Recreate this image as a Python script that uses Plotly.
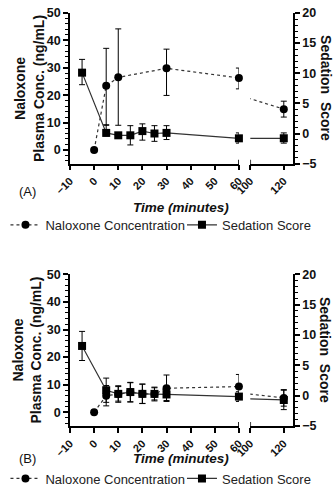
import plotly.graph_objects as go

# ---------------- data ----------------
# Panel A
t_nal_A = [0, 5, 10, 30, 60, 120]
nal_A = [0, 23.4, 26.5, 29.8, 26.3, 14.9]
nal_A_up = [0, 13.7, 17.7, 7.0, 3.6, 2.9]
nal_A_dn = [0, 14.4, 17.5, 9.9, 4.0, 2.9]

t_sed = [-5, 5, 10, 15, 20, 25, 30, 60, 120]
sed_A = [10.1, 0.1, -0.3, -0.3, 0.4, 0.0, 0.1, -0.8, -0.8]
sed_A_up = [2.2, 1.35, 0.4, 1.6, 1.2, 1.3, 1.2, 0.9, 0.9]
sed_A_dn = [2.0, 0.5, 0.4, 1.6, 1.5, 1.3, 1.1, 0.8, 0.8]

# Panel B
t_nal_B = [0, 5, 10, 15, 20, 25, 30, 60, 120]
nal_B = [0, 6.0, 6.6, 7.2, 6.7, 6.6, 8.7, 9.3, 5.2]
nal_B_err = [0, 3.7, 3.0, 3.5, 3.5, 2.5, 4.8, 4.4, 3.0]

sed_B = [8.2, 0.9, 0.3, 0.6, 0.3, 0.3, 0.2, -0.15, -0.7]
sed_B_err = [2.4, 2.0, 1.2, 1.6, 1.6, 1.0, 1.0, 0.8, 1.6]

x_ticks_1 = [-10, 0, 10, 20, 30, 40, 50, 60]
x_ticks_2 = [100, 120]
left_ticks = [0, 10, 20, 30, 40, 50]
right_ticks = [-5, 0, 5, 10, 15, 20]

# ---------------- geometry ----------------
W, H = 335, 500
ML, MR, MT, MB = 58, 42, 6, 69
PW = W - ML - MR
PH = H - MT - MB


def px(xp):
    return (xp - ML) / PW


def py(yp):
    return (H - MB - yp) / PH


d1 = px(236)
d2 = px(248)
yA = [py(161), py(6)]
yB = [py(431), py(275)]

FONT = "Liberation Sans, Arial, sans-serif"
BLACK = "black"

fig = go.Figure()


def add_series(t, v, up, dn, xa1, xa2, ya, name, symbol, msize, dash, legend):
    idx = [i for i, tt in enumerate(t) if tt <= 60]
    err1 = dict(type="data", array=[up[i] for i in idx], arrayminus=[dn[i] for i in idx],
                color=BLACK, thickness=1, width=3)
    err2 = dict(type="data", array=up, arrayminus=dn, color=BLACK, thickness=1, width=3)
    mk = dict(symbol=symbol, size=msize, color=BLACK, line=dict(width=0))
    ln = dict(color="#333333", width=1.2, dash=dash)
    fig.add_trace(go.Scatter(
        x=[t[i] for i in idx], y=[v[i] for i in idx], error_y=err1,
        mode="lines+markers", marker=mk, line=ln, xaxis=xa1, yaxis=ya,
        cliponaxis=False, name=name, legend=legend, showlegend=True))
    fig.add_trace(go.Scatter(
        x=t, y=v, error_y=err2, mode="lines+markers", marker=mk, line=ln,
        xaxis=xa2, yaxis=ya, cliponaxis=True, name=name, legend=legend,
        showlegend=False))


# Panel A
add_series(t_nal_A, nal_A, nal_A_up, nal_A_dn, "x", "x2", "y",
           "Naloxone Concentration", "circle", 8, "dot", "legend")
add_series(t_sed, sed_A, sed_A_up, sed_A_dn, "x", "x2", "y2",
           "Sedation Score", "square", 8, "solid", "legend2")
# Panel B
add_series(t_nal_B, nal_B, nal_B_err, nal_B_err, "x3", "x4", "y3",
           "Naloxone Concentration", "circle", 8, "dot", "legend3")
add_series(t_sed, sed_B, sed_B_err, sed_B_err, "x3", "x4", "y4",
           "Sedation Score", "square", 8, "solid", "legend4")

axis_common = dict(showline=True, linecolor=BLACK, linewidth=1.5, ticks="outside",
                   ticklen=5, tickwidth=1.5, tickcolor=BLACK, showgrid=False,
                   zeroline=False, mirror=False)
xtick_font = dict(family=FONT, size=11, color="#111", weight="bold")
ytick_font = dict(family=FONT, size=12.5, color="#111", weight="bold")
minor_l = dict(dtick=2, ticklen=3, tickwidth=1, ticks="outside", tickcolor=BLACK)
minor_r = dict(dtick=1, ticklen=3, tickwidth=1, ticks="outside", tickcolor=BLACK)


def xax(domain, rng, anchor, tv):
    return dict(domain=domain, range=rng, anchor=anchor, tickmode="array", tickvals=tv,
                tickangle=-45, tickfont=xtick_font, **axis_common)


def yl(domain, anchor):
    return dict(domain=domain, range=[-5, 50], anchor=anchor, tickmode="array",
                tickvals=left_ticks, tickfont=ytick_font, minor=minor_l, **axis_common)


def yr(overlay, anchor):
    return dict(overlaying=overlay, side="right", range=[-5, 20], anchor=anchor,
                tickmode="array", tickvals=right_ticks, tickfont=ytick_font,
                minor=minor_r, **axis_common)


def leg(xp, yp):
    return dict(orientation="h", x=px(xp), y=py(yp), xanchor="left", yanchor="middle",
                font=dict(family=FONT, size=13, color="#222"), itemwidth=30,
                bgcolor="rgba(0,0,0,0)", borderwidth=0)


fig.update_layout(
    width=W, height=H,
    margin=dict(l=ML, r=MR, t=MT, b=MB),
    paper_bgcolor="white", plot_bgcolor="white",
    font=dict(family=FONT, color="#111"),
    xaxis=xax([0, d1], [-10, 60], "y", x_ticks_1),
    xaxis2=xax([d2, 1], [100, 125.5], "y", x_ticks_2),
    yaxis=yl(yA, "x"),
    yaxis2=yr("y", "x2"),
    xaxis3=xax([0, d1], [-10, 60], "y3", x_ticks_1),
    xaxis4=xax([d2, 1], [100, 125.5], "y3", x_ticks_2),
    yaxis3=yl(yB, "x3"),
    yaxis4=yr("y3", "x4"),
    legend=leg(-10, 224),
    legend2=leg(176, 224),
    legend3=leg(-10, 485),
    legend4=leg(176, 485),
    showlegend=True,
)

# axis-break caps
cap = 4 / PH
shapes = []
for xr, x0, yb in [("x", 60, yA[0]), ("x2", 100, yA[0]), ("x3", 60, yB[0]), ("x4", 100, yB[0])]:
    shapes.append(dict(type="line", xref=xr, yref="paper", x0=x0, x1=x0,
                       y0=yb - cap, y1=yb + cap, line=dict(color=BLACK, width=1.5)))
fig.update_layout(shapes=shapes)

ann = []
title_font = dict(family=FONT, size=14, color="#111", weight="bold")
for panel, ycen, xl, ytime, ylab, lab in [
        ("A", (yA[0] + yA[1]) / 2, 15.5, 206, 190, "(A)"),
        ("B", (yB[0] + yB[1]) / 2, 13, 464, 464, "(B)")]:
    ann.append(dict(xref="paper", yref="paper", x=px(xl), y=ycen,
                    text="Naloxone<br>Plasma Conc. (ng/mL)", textangle=-90,
                    showarrow=False, font=title_font, xanchor="center", yanchor="middle"))
    ann.append(dict(xref="paper", yref="paper", x=px(327), y=ycen,
                    text="Sedation  Score", textangle=90, showarrow=False,
                    font=title_font, xanchor="center", yanchor="middle"))
    ann.append(dict(xref="paper", yref="paper", x=px(175), y=py(ytime),
                    text="<i>Time (minutes)</i>", showarrow=False,
                    font=dict(family=FONT, size=13.5, color="#111", weight="bold"),
                    xanchor="center", yanchor="middle"))
    ann.append(dict(xref="paper", yref="paper", x=px(2), y=py(ylab), text=lab,
                    showarrow=False, font=dict(family=FONT, size=13, color="#111"),
                    xanchor="left", yanchor="middle"))
fig.update_layout(annotations=ann)

fig.write_html("out.html")
